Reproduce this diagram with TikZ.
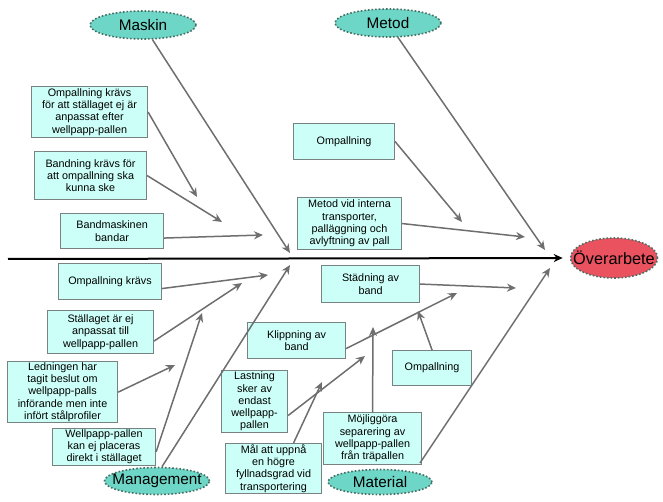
\documentclass[tikz,border=0pt]{standalone}
\usepackage{fontspec}
\setmainfont{Liberation Sans}
\usetikzlibrary{arrows.meta,shapes.geometric}
\definecolor{boxfill}{RGB}{204,255,248}
\definecolor{boxline}{RGB}{120,130,130}
\definecolor{ellfill}{RGB}{110,214,198}
\definecolor{ellline}{RGB}{70,110,100}
\definecolor{redfill}{RGB}{234,82,96}
\definecolor{arrgray}{RGB}{110,110,110}
\newcommand{\ztext}[1]{\makebox[0pt]{#1}}
\tikzset{
  cbox/.style={draw=boxline, fill=boxfill, line width=1.1pt, inner sep=1pt, align=center,
    anchor=north west, font=\fontsize{10.8}{12.3}\selectfont},
  cat/.style={ellipse, draw=ellline, fill=ellfill, dotted, line width=1.6pt, inner sep=0pt,
    minimum width=106pt, minimum height=28pt, font=\fontsize{15.3}{17}\selectfont},
  arr/.style={draw=arrgray, line width=1.5pt, -{Stealth[length=9pt,width=8pt]}},
}
\begin{document}
\begin{tikzpicture}[x=1pt,y=-1pt]
\useasboundingbox (0,0) rectangle (663,502);
% category ellipses
\node[cat] (maskin) at (143,25) {\ztext{Maskin}};
\node[cat] (metod) at (388,23) {\ztext{Metod}};
\node[cat, minimum width=105pt, minimum height=27pt] (mgmt) at (157,481) {\ztext{Management}};
\node[cat, minimum width=104pt, minimum height=25pt] (material) at (380,482) {\ztext{Material}};
\node[ellipse, draw=ellline, fill=redfill, dotted, line width=1.6pt, inner sep=0pt,
  minimum width=87pt, minimum height=40pt, font=\fontsize{16.3}{18}\selectfont] (over) at (614,258) {\ztext{Överarbete}};
% spine
\coordinate (spine) at (8,259);
\draw[line width=2pt, -{Stealth[length=9pt,width=8pt]}, shorten >=7pt] (spine) -- (over.west);
% boxes: Maskin
\node[cbox, minimum width=116pt, minimum height=51pt] (b1) at (31,86) {Ompallning krävs\\för att ställaget ej är\\anpassat efter\\wellpapp-pallen};
\node[cbox, minimum width=112pt, minimum height=48pt] (b2) at (34,151) {Bandning krävs för\\att ompallning ska\\kunna ske};
\node[cbox, minimum width=103pt, minimum height=35pt] (b3) at (60,213) {Bandmaskinen\\bandar};
% boxes: Metod
\node[cbox, minimum width=101pt, minimum height=36pt] (b4) at (293,123) {Ompallning};
\node[cbox, minimum width=104pt, minimum height=52pt] (b5) at (297,197) {Metod vid interna\\transporter,\\palläggning och\\avlyftning av pall};
% boxes: Management
\node[cbox, minimum width=103pt, minimum height=36pt] (b6) at (58,263) {Ompallning krävs};
\node[cbox, minimum width=106pt, minimum height=43pt] (b7) at (47,310) {Ställaget är ej\\anpassat till\\wellpapp-pallen};
\node[cbox, minimum width=110pt, minimum height=61pt] (b8) at (7,361) {Ledningen har\\tagit beslut om\\wellpapp-palls\\införande men inte\\infört stålprofiler};
\node[cbox, minimum width=103pt, minimum height=35pt] (b9) at (52,428) {Wellpapp-pallen\\kan ej placeras\\direkt i ställaget};
% boxes: Material
\node[cbox, minimum width=98pt, minimum height=37pt] (b10) at (321,265) {Städning av\\band};
\node[cbox, minimum width=98pt, minimum height=36pt] (b11) at (247,322) {Klippning av\\band};
\node[cbox, minimum width=79pt, minimum height=35pt] (b12) at (392,350) {Ompallning};
\node[cbox, minimum width=66pt, minimum height=62pt] (b13) at (221,370) {Lastning\\sker av\\endast\\wellpapp-\\pallen};
\node[cbox, minimum width=98pt, minimum height=52pt] (b14) at (323,412) {Möjliggöra\\separering av\\wellpapp-pallen\\från träpallen};
\node[cbox, minimum width=96pt, minimum height=49pt] (b15) at (225,443) {Mål att uppnå\\en högre\\fyllnadsgrad vid\\transportering};
% arrow tips
\coordinate (tMaskin) at (290,253);
\coordinate (tMetod) at (545,250);
\coordinate (tMgmt) at (290,265);
\coordinate (tMat) at (550,268);
\coordinate (t1) at (197,197);
\coordinate (t2) at (222,222);
\coordinate (t3) at (263,235);
\coordinate (t4) at (462,222);
\coordinate (t5) at (525,237);
\coordinate (t6) at (268,275);
\coordinate (t7) at (242,283);
\coordinate (t8) at (175,365);
\coordinate (t9) at (202,313);
\coordinate (t10) at (516,288);
\coordinate (t11) at (457,293);
\coordinate (t12) at (418,311);
\coordinate (t13) at (365,356);
\coordinate (t14) at (373,327);
\coordinate (t15) at (322,382);
% main bones
\draw[arr] (maskin) -- (tMaskin);
\draw[arr] (metod) -- (tMetod);
\draw[arr] ([xshift=5pt]mgmt.north) -- (tMgmt);
\draw[arr] ([shift={(40,-19)}]material.center) -- (tMat);
% sub arrows
\draw[arr] (b1.east) -- (t1);
\draw[arr] (b2.east) -- (t2);
\draw[arr] ([yshift=-7pt]b3.east) -- (t3);
\draw[arr] (b4.east) -- (t4);
\draw[arr] (b5.east) -- (t5);
\draw[arr] ([yshift=-7pt]b6.east) -- (t6);
\draw[arr] ([yshift=-9pt]b7.east) -- (t7);
\draw[arr] (b8.east) -- (t8);
\draw[arr] ([yshift=-5pt]b9.east) -- (t9);
\draw[arr] (b10.east) -- (t10);
\draw[arr] ([yshift=-8pt]b11.east) -- (t11);
\draw[arr] (b12.north) -- (t12);
\draw[arr] ([yshift=-14pt]b13.east) -- (t13);
\draw[arr] (b14.north) -- (t14);
\draw[arr] ([xshift=20pt]b15.north) -- (t15);
\end{tikzpicture}
\end{document}
